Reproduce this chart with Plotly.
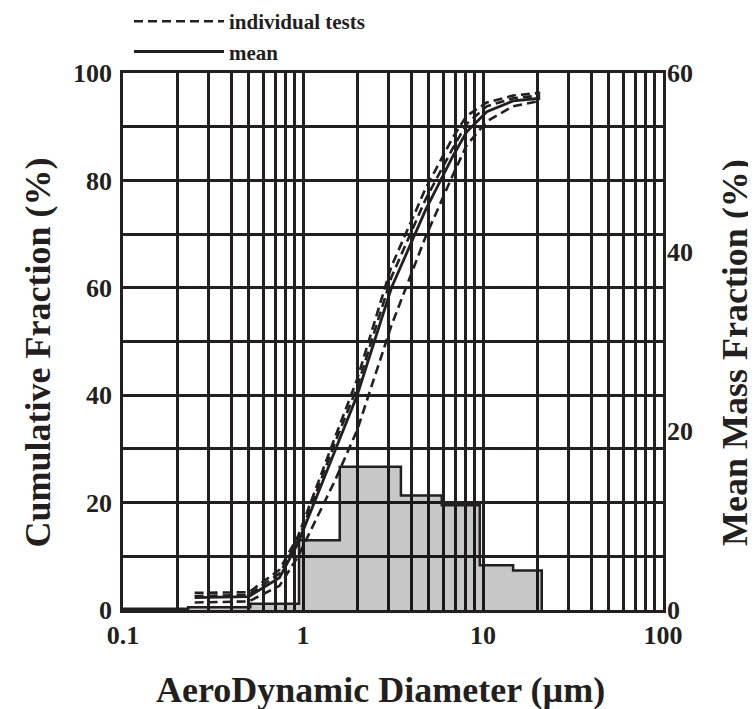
import plotly.graph_objects as go

# ---------------- data ----------------
# histogram (mean mass fraction, %) on bin edges (µm)
bin_edges = [0.1, 0.23, 0.51, 0.95, 1.6, 3.5, 5.9, 9.6, 14.7, 21.2]
mass_fraction = [0.15, 0.3, 0.7, 7.8, 16.0, 12.8, 11.7, 5.0, 4.4]

# cumulative fraction (%) curves
diam = [0.25, 0.5, 0.74, 0.94, 1.5, 2.0, 3.1, 4.8, 6.8, 8.1, 10.5, 14.7, 20.8]
mean_cum = [2.3, 2.5, 6.0, 12.5, 29.5, 40.0, 60.0, 74.5, 84.5, 89.0, 92.8, 94.8, 95.3]
test1_cum = [3.2, 3.3, 7.5, 13.8, 32.0, 43.0, 64.0, 78.5, 88.0, 92.0, 94.5, 95.8, 96.3]
test2_cum = [2.6, 2.8, 6.8, 13.0, 31.0, 41.5, 62.0, 76.5, 86.0, 90.5, 93.8, 95.3, 95.8]
test3_cum = [1.4, 1.6, 4.5, 10.0, 24.0, 33.5, 53.0, 69.5, 81.0, 86.5, 91.0, 93.8, 94.8]
tests = [test1_cum, test2_cum, test3_cum]

x_tickvals = [0.1, 1, 10, 100]
x_ticktext = ["0.1", "1", "10", "100"]
y_ticks = [0, 20, 40, 60, 80, 100]
y2_ticks = [0, 20, 40, 60]

x_title = "AeroDynamic Diameter (µm)"
y_title = "Cumulative Fraction (%)"
y2_title = "Mean Mass Fraction (%)"

FONT = "Liberation Serif"
INK = "#231f20"
TICKFONT = dict(family=FONT, size=26, color=INK, weight="bold")
TITLEFONT = dict(family=FONT, size=36, color=INK, weight="bold")

fig = go.Figure()

# histogram as step outline with translucent fill
hx = list(bin_edges) + [bin_edges[-1]]
hy = list(mass_fraction) + [mass_fraction[-1], 0]
fig.add_trace(go.Scatter(
    x=hx, y=hy, yaxis="y2", mode="lines", line=dict(shape="hv", color=INK, width=2.5),
    fill="tozeroy", fillcolor="rgba(0,0,0,0.22)", showlegend=False, hoverinfo="skip"))

for i, t in enumerate(tests):
    fig.add_trace(go.Scatter(
        x=diam, y=t, mode="lines", name="<b>individual tests</b>", legendgroup="tests",
        showlegend=(i == 0), line=dict(color=INK, width=2.6, dash="9px,5px")))

fig.add_trace(go.Scatter(
    x=diam, y=mean_cum, mode="lines", name="<b>mean</b>",
    line=dict(color=INK, width=2.8)))

# page body has an 8px margin, so the figure is sized/offset to match the window
fig.update_layout(
    width=748, height=701,
    margin=dict(l=115, r=93, t=65, b=99, autoexpand=False),
    paper_bgcolor="white", plot_bgcolor="white",
    font=dict(family=FONT, color=INK, size=19),
    legend=dict(x=121 / 748, y=1.134, xref="container", yref="paper",
                xanchor="left", yanchor="top", orientation="v",
                itemwidth=90, font=dict(family=FONT, size=21, color=INK),
                bgcolor="rgba(0,0,0,0)", tracegroupgap=0),
    xaxis=dict(
        type="log", range=[-1, 2], tickvals=x_tickvals, ticktext=x_ticktext,
        showgrid=True, gridcolor=INK, gridwidth=2.5,
        minor=dict(dtick="D1", showgrid=True, gridcolor=INK, gridwidth=2.5, ticks=""),
        showline=True, linecolor=INK, linewidth=2.5, mirror=True,
        ticks="", tickfont=TICKFONT, zeroline=False),
    yaxis=dict(
        range=[0, 100], tickvals=y_ticks, showgrid=True, gridcolor=INK, gridwidth=2.5,
        minor=dict(dtick=10, showgrid=True, gridcolor=INK, gridwidth=2.5, ticks=""),
        showline=True, linecolor=INK, linewidth=2.5, mirror=True, ticks="",
        tickfont=TICKFONT, ticklabelstandoff=3, zeroline=False),
    yaxis2=dict(
        range=[0, 60], tickvals=y2_ticks, overlaying="y", side="right",
        showgrid=False, ticks="", showline=False,
        tickfont=TICKFONT, ticklabelstandoff=3, zeroline=False),
    annotations=[
        dict(text=x_title, xref="paper", yref="paper", x=0.476, y=-0.149,
             xanchor="center", yanchor="middle", showarrow=False, font=TITLEFONT),
        dict(text=y_title, xref="paper", yref="paper", x=-0.157, y=0.48, textangle=-90,
             xanchor="center", yanchor="middle", showarrow=False, font=TITLEFONT),
        dict(text=y2_title, xref="paper", yref="paper", x=1.133, y=0.48, textangle=-90,
             xanchor="center", yanchor="middle", showarrow=False, font=TITLEFONT),
    ],
)

fig.write_html("out.html")
